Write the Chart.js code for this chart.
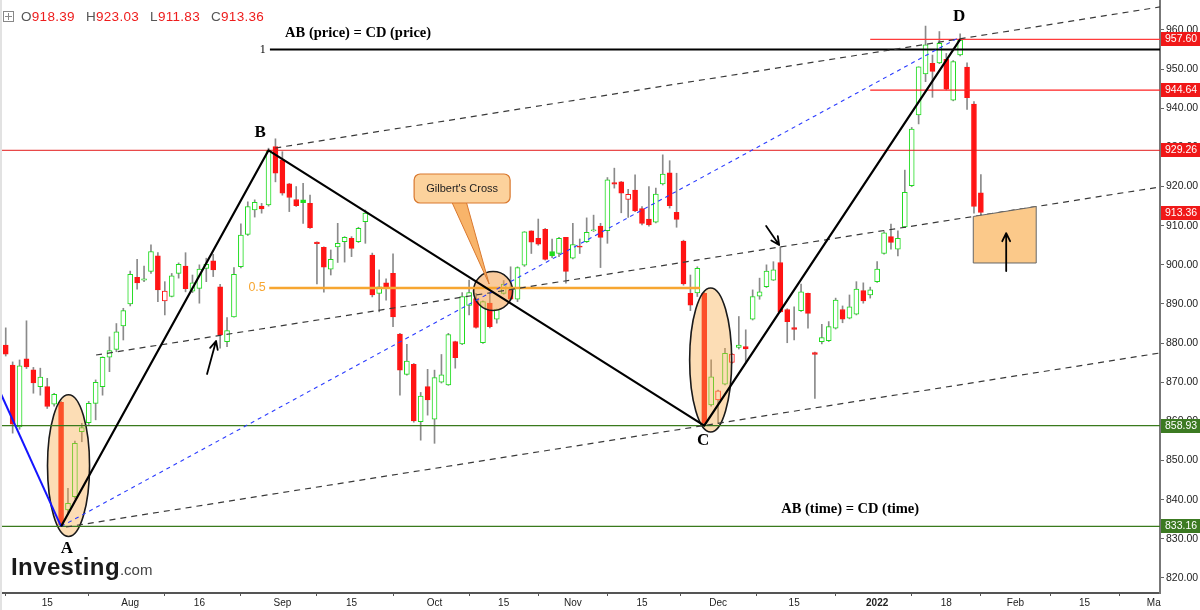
<!DOCTYPE html>
<html><head><meta charset="utf-8">
<script src="https://cdn.jsdelivr.net/npm/chart.js@4.4.1/dist/chart.umd.min.js"></script>
<style>
html,body{margin:0;padding:0;background:#fff;overflow:hidden}
#wrap{position:relative;width:1200px;height:610px;background:#fff}
#c{position:absolute;left:0;top:0}
#lb{position:absolute;left:0;top:0;width:2px;height:610px;background:#e2e2e2}
#hdr{position:absolute;left:3px;top:9px;font:13.5px "Liberation Sans",Arial,sans-serif;color:#555;white-space:nowrap;letter-spacing:0.3px}
#hdr .v{color:#ee1c1c;margin-right:11px}
#hdr .ic{display:inline-block;width:9px;height:9px;border:1px solid #888;position:relative;vertical-align:-1px;margin-right:7px}
#hdr .ic:before{content:"";position:absolute;left:4px;top:1px;width:1px;height:7px;background:#888}
#hdr .ic:after{content:"";position:absolute;left:1px;top:4px;width:7px;height:1px;background:#888}
#logo{position:absolute;left:11px;top:553px;white-space:nowrap;font-family:"Liberation Sans",Arial,sans-serif}
#logo .a{font-weight:bold;font-size:24px;color:#1b1b1b;letter-spacing:0.4px}
#logo .b{font-size:15px;color:#444}
</style></head>
<body>
<div id="wrap">
<canvas id="c" width="1200" height="610"></canvas>
<div id="lb"></div>
<div id="hdr"><span class="ic"></span>O<span class="v">918.39</span>H<span class="v">923.03</span>L<span class="v">911.83</span>C<span class="v">913.36</span></div>
<div id="logo"><span class="a">Investing</span><span class="b">.com</span></div>
</div>
<script>
// ---- candle data (daily, left to right) ----
const open  = [879.5,874.4,858.6,876.0,873.2,868.9,868.9,864.4,864.9,837.4,840.8,857.4,859.7,864.6,868.9,876.4,878.4,884.4,890.0,896.8,
896.1,898.3,902.3,890.8,891.9,897.8,899.7,893.3,894.0,899.1,901.0,894.4,880.4,886.7,899.5,907.8,914.0,915.0,915.3,930.2,
926.8,920.7,916.7,916.6,915.7,905.8,904.5,898.9,904.6,905.9,906.8,905.9,911.0,902.5,892.7,895.4,897.8,882.3,872.0,874.6,
859.9,868.9,860.6,870.0,869.3,880.4,879.8,889.6,891.4,880.1,890.2,886.1,892.7,893.6,891.2,899.9,908.7,906.8,909.1,903.4,
902.9,907.0,901.7,904.8,905.9,908.7,909.9,908.7,921.0,921.2,916.7,919.1,914.4,911.7,910.9,920.7,923.5,913.4,906.1,892.7,
892.8,892.7,864.2,865.5,869.5,875.1,878.9,879.1,886.1,892.0,894.4,896.1,900.6,888.6,884.0,888.3,892.7,877.6,880.4,880.6,
883.8,888.6,886.4,887.4,893.4,892.3,895.7,902.9,907.2,904.0,909.7,920.2,938.3,948.8,951.5,951.6,952.5,942.1,953.6,950.5,
941.1,918.39];
const high  = [883.9,875.2,875.7,885.7,873.8,873.6,871.0,867.2,865.2,842.9,855.0,859.5,865.1,870.6,876.5,881.6,885.0,888.9,898.4,901.4,
899.7,905.1,903.1,895.7,897.8,900.5,903.1,897.4,900.0,901.7,902.7,895.0,886.5,899.3,910.5,916.1,916.6,915.7,929.8,932.2,
928.9,920.8,920.0,920.8,917.8,905.9,904.6,903.8,910.6,907.2,907.2,909.6,914.0,903.0,898.7,896.4,902.8,882.5,879.7,874.8,
867.4,873.3,873.1,877.1,882.5,880.5,892.9,896.1,892.7,890.8,892.7,888.7,896.0,899.5,899.5,908.5,908.7,911.7,909.3,906.6,
907.0,907.0,910.6,906.6,912.0,912.7,910.6,922.3,924.7,921.3,919.3,923.0,914.9,920.0,919.6,928.1,926.6,923.4,906.3,897.4,
899.5,893.0,875.7,868.0,878.7,877.4,886.8,883.4,893.6,896.6,900.0,900.8,904.6,888.8,889.3,895.1,892.8,877.7,884.8,885.5,
891.5,889.5,892.3,895.7,895.4,894.3,900.8,908.5,910.4,908.7,924.2,935.1,950.6,961.0,953.6,959.6,954.0,952.2,959.0,951.6,
941.7,923.03];
const low   = [876.7,857.0,858.0,873.5,867.2,866.7,863.3,863.9,833.16,836.5,840.3,854.8,859.2,860.4,866.7,872.7,877.8,880.8,889.5,893.8,
895.7,897.8,890.6,887.2,891.8,896.6,893.1,892.9,890.2,895.7,897.0,878.7,879.1,886.6,899.2,907.5,912.2,913.2,915.0,921.2,
917.8,913.6,914.9,910.6,909.3,895.1,893.0,897.4,900.6,900.7,902.1,905.7,905.5,891.8,888.0,891.0,884.2,866.7,871.8,859.8,
855.2,861.6,854.4,869.8,869.2,873.6,879.6,887.2,883.8,879.9,883.9,885.1,892.5,891.0,890.6,899.6,902.9,905.0,901.2,901.8,
902.1,895.3,901.5,902.9,905.7,908.5,899.3,905.5,919.6,913.3,912.1,913.6,910.2,909.9,910.7,920.4,914.5,909.6,894.8,888.3,
891.9,858.93,863.9,859.5,869.3,874.8,878.5,874.9,885.9,891.2,894.2,896.0,887.8,880.1,880.8,888.1,883.8,865.9,879.8,880.4,
883.6,885.2,886.2,887.2,890.2,891.5,895.5,902.7,904.0,902.3,909.5,920.0,936.0,946.8,942.8,951.4,944.7,941.9,953.4,939.7,
913.2,911.83];
const close = [877.2,859.3,874.2,873.9,869.8,871.3,863.8,866.9,833.6,839.1,854.4,858.4,864.6,870.0,876.4,878.1,882.9,888.3,897.6,895.4,
896.4,903.4,893.6,893.3,897.2,900.1,893.9,895.4,898.9,900.1,898.7,882.1,883.2,897.6,907.6,914.9,916.0,914.3,929.2,923.4,
918.3,917.2,915.1,915.9,909.5,905.4,899.4,901.4,905.5,907.0,904.2,909.3,913.2,892.3,894.4,894.3,886.7,873.1,875.4,860.1,
866.5,865.5,871.2,871.9,882.2,876.3,891.9,892.9,884.0,890.6,884.2,888.6,895.1,891.2,899.3,908.4,905.8,905.3,901.4,902.3,
906.8,898.3,905.2,904.5,908.3,908.9,907.0,921.7,920.6,918.3,918.0,913.8,910.6,910.2,918.1,923.2,915.1,911.6,895.1,889.7,
899.1,859.5,871.4,867.8,877.4,877.2,879.5,878.5,891.9,893.1,898.4,898.7,888.0,885.5,883.5,893.1,887.6,877.1,881.4,884.2,
891.0,886.1,889.3,893.8,890.8,893.6,898.9,908.2,905.7,906.8,918.5,934.7,950.6,956.2,949.4,956.6,944.9,951.9,957.4,942.7,
914.9,913.36];

// ---- axis ticks ----
const tickIdx = [6,18,28,40,50,62,72,82,92,103,114,126,136,146,156,166];
const tickLbl = ['15','Aug','16','Sep','15','Oct','15','Nov','15','Dec','15','2022','18','Feb','15','Ma'];
const priceTicks = [820,830,840,850,860,870,880,890,900,910,920,930,940,950,960];

// ---- price badges on the right axis ----
const badgeVals  = [957.60, 944.64, 929.26, 913.36, 858.93, 833.16];
const badgeKinds = ['r','r','r','r','g','g'];

// ---- ABCD pattern points (bar index, price) ----
const patIdx   = [8, 38, 101, 138];
const patPrice = [833.16, 929.26, 858.93, 957.6];
const patNames = ['A','B','C','D'];

// ---- annotation geometry in data units ----
const levels = [ // price, fromIdx, toIdx, colour, width
  {p:929.26, a:-1,    b:170,   c:'#e31b1b', w:1},
  {p:858.93, a:-1,    b:170,   c:'#3a7a1c', w:1.2},
  {p:833.16, a:-1,    b:170,   c:'#3a7a1c', w:1.2},
  {p:957.60, a:125,   b:170,   c:'#ff3b3b', w:1.3},
  {p:944.64, a:125,   b:170,   c:'#ff2020', w:1.2},
  {p:955.03, a:38.2,  b:170,   c:'#000',    w:2},
  {p:894.1,  a:38.1,  b:100.4, c:'#f7a631', w:2.5}
];
const channels = [
  [38.97, 929.85, 166.9, 965.88],
  [13.06, 876.96, 166.9, 919.89],
  [8.72,  833.02, 166.9, 877.48]
];
const blueDash  = [8, 833.16, 137.7, 957.96];
const blueSolid = [-0.82, 867.51, 8, 833.16];
const ellipses = [ // centreIdx, centrePrice, rIdx, rPrice, fill
  [9.08,  848.7,  3.04, 18.1, 'rgba(247,170,70,0.40)'],
  [101.93,875.69, 3.04, 18.4, 'rgba(247,170,70,0.40)'],
  [70.47, 893.32, 2.82, 4.98, 'rgba(245,160,75,0.55)']
];

const N = close.length;
const GREEN = '#1edc1e', RED = '#ff1414';
const candleColor = close.map((c,i) => (i===0 ? c>=open[i] : c>=close[i-1]) ? GREEN : RED);
const hollow = close.map((c,i) => c > open[i]);
const idx = close.map((_,i) => i);

function arrow(ctx,x1,y1,x2,y2,h){
  ctx.beginPath(); ctx.moveTo(x1,y1); ctx.lineTo(x2,y2);
  const a = Math.atan2(y2-y1,x2-x1);
  ctx.moveTo(x2-h*Math.cos(a-0.45), y2-h*Math.sin(a-0.45));
  ctx.lineTo(x2,y2);
  ctx.lineTo(x2-h*Math.cos(a+0.45), y2-h*Math.sin(a+0.45));
  ctx.stroke();
}

const annot = {
  id:'annot',
  afterDatasetsDraw(chart){
    const {ctx, chartArea:ca, scales:{x,y}} = chart;
    const X = v => x.getPixelForValue(v), Y = v => y.getPixelForValue(v);
    ctx.save();
    ctx.beginPath(); ctx.rect(ca.left, ca.top, ca.right-ca.left, ca.bottom-ca.top); ctx.clip();
    ellipses.forEach(e => {
      ctx.beginPath();
      ctx.ellipse(X(e[0]), Y(e[1]), X(e[0]+e[2])-X(e[0]), Y(e[1])-Y(e[1]+e[3]), 0, 0, Math.PI*2);
      ctx.fillStyle = e[4]; ctx.fill();
      ctx.lineWidth = 1.6; ctx.strokeStyle = '#1a1a1a'; ctx.stroke();
    });
    levels.forEach(l => {
      ctx.beginPath(); ctx.strokeStyle = l.c; ctx.lineWidth = l.w;
      ctx.moveTo(X(l.a), Y(l.p)); ctx.lineTo(X(l.b), Y(l.p)); ctx.stroke();
    });
    ctx.setLineDash([6,5]); ctx.strokeStyle = '#3a3a3a'; ctx.lineWidth = 1.2;
    channels.forEach(c => { ctx.beginPath(); ctx.moveTo(X(c[0]),Y(c[1])); ctx.lineTo(X(c[2]),Y(c[3])); ctx.stroke(); });
    ctx.setLineDash([4,4]); ctx.strokeStyle = '#2b3cff'; ctx.lineWidth = 1.1;
    ctx.beginPath(); ctx.moveTo(X(blueDash[0]),Y(blueDash[1])); ctx.lineTo(X(blueDash[2]),Y(blueDash[3])); ctx.stroke();
    ctx.setLineDash([]);
    ctx.strokeStyle = '#1515ff'; ctx.lineWidth = 2;
    ctx.beginPath(); ctx.moveTo(X(blueSolid[0]),Y(blueSolid[1])); ctx.lineTo(X(blueSolid[2]),Y(blueSolid[3])); ctx.stroke();
    ctx.strokeStyle = '#000'; ctx.lineWidth = 2.2; ctx.lineJoin = 'round';
    ctx.beginPath();
    patIdx.forEach((v,i) => { const px = X(v), py = Y(patPrice[i]); if(i===0) ctx.moveTo(px,py); else ctx.lineTo(px,py); });
    ctx.stroke();
    // Gilbert's Cross callout
    const bx1 = X(59.05), bx2 = X(72.93), by1 = Y(923.21), by2 = Y(915.8);
    ctx.beginPath();
    ctx.moveTo(X(64.5), by2-1); ctx.lineTo(X(69.9), Y(895.1)); ctx.lineTo(X(66.6), by2-1);
    ctx.fillStyle = '#f8b46a'; ctx.fill(); ctx.strokeStyle = '#d9782e'; ctx.lineWidth = 1; ctx.stroke();
    ctx.beginPath(); ctx.roundRect(bx1, by1, bx2-bx1, by2-by1, 6);
    ctx.fillStyle = '#fcd29c'; ctx.fill(); ctx.strokeStyle = '#d9782e'; ctx.lineWidth = 1.2; ctx.stroke();
    ctx.fillStyle = '#222'; ctx.font = '11px "Liberation Sans", Arial, sans-serif';
    ctx.textAlign = 'center'; ctx.textBaseline = 'middle';
    ctx.fillText("Gilbert's Cross", (bx1+bx2)/2, (by1+by2)/2+0.5);
    // target box (top edge on the middle channel)
    const ch = channels[1], slope = (ch[3]-ch[1])/(ch[2]-ch[0]);
    const onCh = i => ch[1] + slope*(i-ch[0]);
    const tL = 139.9, tR = 149.0, tB = 900.47;
    ctx.beginPath();
    ctx.moveTo(X(tL), Y(onCh(tL))); ctx.lineTo(X(tR), Y(onCh(tR)));
    ctx.lineTo(X(tR), Y(tB)); ctx.lineTo(X(tL), Y(tB)); ctx.closePath();
    ctx.fillStyle = '#fbc98a'; ctx.fill(); ctx.strokeStyle = '#666'; ctx.lineWidth = 1; ctx.stroke();
    ctx.strokeStyle = '#000'; ctx.lineWidth = 1.8; ctx.lineCap = 'round';
    arrow(ctx, X(144.66), Y(898.4), X(144.66), Y(908.1), 9);
    arrow(ctx, X(29.11), Y(872.11), X(30.41), Y(880.54), 9);
    arrow(ctx, X(109.95), Y(909.92), X(111.83), Y(905.07), 9);
    ctx.fillStyle = '#000'; ctx.textAlign = 'center'; ctx.textBaseline = 'middle';
    ctx.font = 'bold 17px "Liberation Serif", "Times New Roman", serif';
    const lp = [[8.86,827.4],[36.78,933.7],[100.84,855.0],[137.86,963.3]];
    lp.forEach((p,i) => ctx.fillText(patNames[i], X(p[0]), Y(p[1])));
    ctx.font = 'bold 14.5px "Liberation Serif", "Times New Roman", serif';
    ctx.fillText('AB (price) = CD (price)', X(50.95), Y(959.2));
    ctx.fillText('AB (time) = CD (time)', X(122.1), Y(837.6));
    ctx.textAlign = 'right';
    ctx.font = '12px "Liberation Serif", "Times New Roman", serif';
    ctx.fillText('1', X(37.6), Y(955.03));
    ctx.fillStyle = '#f7a631'; ctx.font = '12.5px "Liberation Sans", Arial, sans-serif';
    ctx.fillText('0.5', X(37.6), Y(894.1));
    ctx.restore();
  },
  afterDraw(chart){
    const {ctx, chartArea:ca, scales:{y}} = chart;
    ctx.save();
    ctx.font = '10.5px "Liberation Sans", Arial, sans-serif';
    ctx.textAlign = 'left'; ctx.textBaseline = 'middle';
    badgeVals.forEach((v,i) => {
      const py = Math.round(y.getPixelForValue(v));
      ctx.fillStyle = badgeKinds[i]==='r' ? '#f01818' : '#3c7a22';
      ctx.fillRect(ca.right+1, py-7, 40, 14);
      ctx.fillStyle = '#fff';
      ctx.fillText(v.toFixed(2), ca.right+5, py+0.5);
    });
    ctx.restore();
  }
};

new Chart(document.getElementById('c'), {
  type:'bar',
  data:{
    datasets:[
      { data: idx.map(i => ({x:i, y:[low[i], high[i]]})), backgroundColor:'#8a8a8a', borderWidth:0,
        barThickness:1, grouped:false, order:2 },
      { data: idx.map(i => ({x:i, y:[open[i], close[i]]})),
        backgroundColor: idx.map(i => hollow[i] ? '#ffffff' : candleColor[i]),
        borderColor: candleColor, borderWidth:1, borderSkipped:false,
        barThickness:5, grouped:false, order:1, minBarLength:1 }
    ]
  },
  options:{
    responsive:false, animation:false, devicePixelRatio:1,
    layout:{padding:{left:2, right:0, top:0, bottom:0}},
    plugins:{legend:{display:false}, tooltip:{enabled:false}},
    scales:{
      x:{ type:'linear', min:-0.54, max:166.9, offset:false,
          grid:{drawOnChartArea:false, drawTicks:true, tickLength:3, color:'#555'},
          border:{color:'#555', width:2},
          afterBuildTicks: s => { s.ticks = tickIdx.map(v => ({value:v})); },
          ticks:{ autoSkip:false, maxRotation:0, padding:1, color:'#222',
            font: c => ({family:'"Liberation Sans", Arial, sans-serif', size:10, weight: c.index===11 ? 'bold' : 'normal'}),
            callback: (v, i) => tickLbl[i] },
          afterFit: s => { s.height = 17; s.paddingLeft = 0; s.paddingRight = 0; } },
      y:{ type:'linear', position:'right', min:816.16, max:967.66,
          grid:{drawOnChartArea:false, drawTicks:true, tickLength:4, color:'#666'},
          border:{color:'#777', width:2},
          afterBuildTicks: s => { s.ticks = priceTicks.map(v => ({value:v})); },
          ticks:{ padding:2, color:'#222', font:{family:'"Liberation Sans", Arial, sans-serif', size:10.5},
            callback: v => Number(v).toFixed(2) },
          afterFit: s => { s.width = 40; s.paddingTop = 0; s.paddingBottom = 0; } }
    }
  },
  plugins:[annot]
});
</script>
</body></html>
